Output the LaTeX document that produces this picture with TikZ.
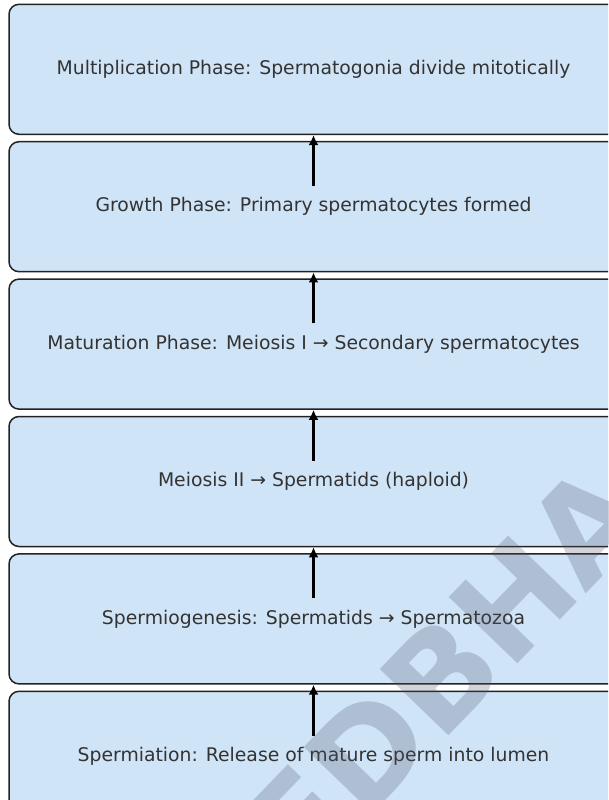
\documentclass[tikz,border=0pt]{standalone}
\usepackage{fontspec}
\setmainfont{DejaVu Sans}
\usetikzlibrary{arrows.meta,calc}
\definecolor{boxfill}{RGB}{208,228,247}
\definecolor{boxline}{RGB}{34,34,34}
\definecolor{txt}{RGB}{51,51,51}
\definecolor{wm}{RGB}{80,84,107}
\begin{document}
\begin{tikzpicture}[x=1pt,y=-1pt,
  phasebox/.style={draw=boxline,line width=1.5pt,fill=boxfill,rounded corners=10pt,
    minimum width=609pt,minimum height=130pt,inner sep=0pt,text=txt,
    font=\fontsize{18.8}{22}\selectfont},
  uparrow/.style={draw=black,line width=3pt,-{Latex[length=10pt,width=10pt]}},
  watermark/.style={rotate=46,text=wm,text opacity=0.25,inner sep=0pt,
    font=\fontsize{131}{131}\selectfont\bfseries}]
\useasboundingbox (0,0) rectangle (608,800);
\clip (0,0) rectangle (608,800);
\node[phasebox] (b1) at (313.5,69.3) {Multiplication Phase: Spermatogonia divide mitotically};
\node[phasebox] (b2) at (313.5,206.7) {Growth Phase: Primary spermatocytes formed};
\node[phasebox] (b3) at (313.5,344.1) {Maturation Phase: Meiosis I → Secondary spermatocytes};
\node[phasebox] (b4) at (313.5,481.5) {Meiosis II → Spermatids (haploid)};
\node[phasebox] (b5) at (313.5,618.9) {Spermiogenesis: Spermatids → Spermatozoa};
\node[phasebox] (b6) at (313.5,756.3) {Spermiation: Release of mature sperm into lumen};
\draw[uparrow] ([yshift=-45pt]b2.north) -- (b1.south);
\draw[uparrow] ([yshift=-45pt]b3.north) -- (b2.south);
\draw[uparrow] ([yshift=-45pt]b4.north) -- (b3.south);
\draw[uparrow] ([yshift=-45pt]b5.north) -- (b4.south);
\draw[uparrow] ([yshift=-45pt]b6.north) -- (b5.south);
\node[watermark] (wmk) at (445,671) {EDBHA};
\end{tikzpicture}
\end{document}
